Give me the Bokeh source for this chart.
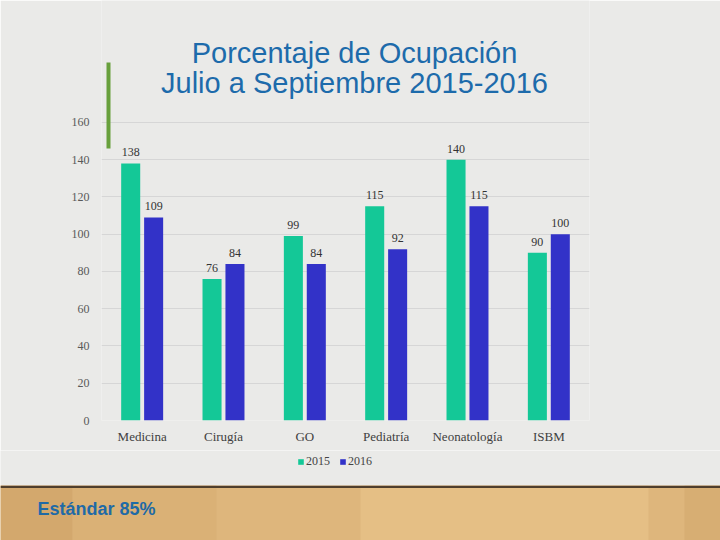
from bokeh.plotting import figure
from bokeh.models import (ColumnDataSource, FactorRange, Range1d, FixedTicker, LabelSet, Label,
                          Legend, LegendItem, BoxAnnotation)
from bokeh.layouts import column
from bokeh.transform import dodge
from bokeh.core.properties import value
from bokeh.embed import file_html
from bokeh.resources import INLINE

categories = ["Medicina", "Cirugía", "GO", "Pediatría", "Neonatología", "ISBM"]
values_2015 = [138, 76, 99, 115, 140, 90]
values_2016 = [109, 84, 84, 92, 115, 100]
series_names = ["2015", "2016"]
y_ticks = [0, 20, 40, 60, 80, 100, 120, 140, 160]
title_lines = ["Porcentaje de Ocupación", "Julio a Septiembre 2015-2016"]
note_text = "Estándar 85%"

SLIDE_BG = "#eaeae8"
WOOD = "#deb67c"
GREEN = "#14c897"
BLUE = "#3232c8"
TITLE_BLUE = "#1d6bab"
SERIF = "Liberation Serif"
SANS = "Liberation Sans"


def no_align(fig):
    if "frame_align" in fig.properties():
        fig.frame_align = False


src = ColumnDataSource(dict(
    cat=categories, v15=values_2015, v16=values_2016,
    t15=[str(v) for v in values_2015], t16=[str(v) for v in values_2016]))

# main chart: frame spans from the canvas top down to the zero line
p = figure(x_range=FactorRange(*categories), y_range=Range1d(0, 225.5),
           width=720, height=450, output_backend="svg", toolbar_location=None,
           min_border_left=101, min_border_right=131, min_border_top=0,
           min_border_bottom=30, background_fill_color=SLIDE_BG,
           border_fill_color=SLIDE_BG, outline_line_color=None)
no_align(p)

off = 0.141
bw = 0.234
r15 = p.vbar(x=dodge('cat', -off, range=p.x_range), top='v15', width=bw, source=src,
             fill_color=GREEN, line_color=None)
r16 = p.vbar(x=dodge('cat', off, range=p.x_range), top='v16', width=bw, source=src,
             fill_color=BLUE, line_color=None)

for col_v, col_t, o in (("v15", "t15", -off), ("v16", "t16", off)):
    p.add_layout(LabelSet(x=dodge('cat', o, range=p.x_range), y=col_v, text=col_t, source=src,
                          text_align="center", text_baseline="bottom", y_offset=7,
                          text_font=value(SERIF), text_font_size=value("12px"),
                          text_color="#333333"))

p.yaxis.ticker = FixedTicker(ticks=y_ticks)
p.ygrid.ticker = FixedTicker(ticks=y_ticks)
p.ygrid.grid_line_color = "#d6d6d6"
p.xgrid.grid_line_color = None
for ax in (p.xaxis, p.yaxis):
    ax.axis_line_color = None
    ax.major_tick_line_color = None
    ax.minor_tick_line_color = None
    ax.major_tick_out = 0
    ax.major_tick_in = 0
    ax.minor_tick_out = 0
p.yaxis.major_label_text_font = SERIF
p.yaxis.major_label_text_font_size = "12px"
p.yaxis.major_label_text_color = "#595959"
p.yaxis.major_label_standoff = 12
p.xaxis.major_label_text_font = SERIF
p.xaxis.major_label_text_font_size = "13px"
p.xaxis.major_label_text_color = "#404040"
p.xaxis.major_label_standoff = 8

# title (inside the extended frame, positioned in frame pixels)
p.add_layout(Label(x=253, y=368, x_units="screen", y_units="screen", text=title_lines[0],
                   text_align="center", text_baseline="alphabetic", text_font=SANS,
                   text_font_size="29px", text_color=TITLE_BLUE))
p.add_layout(Label(x=253, y=338, x_units="screen", y_units="screen", text=title_lines[1],
                   text_align="center", text_baseline="alphabetic", text_font=SANS,
                   text_font_size="29px", text_color=TITLE_BLUE))
# decorative green bar
p.add_layout(BoxAnnotation(left=5, right=9, top=358, bottom=272, left_units="screen",
                           right_units="screen", top_units="screen", bottom_units="screen",
                           fill_color="#68a03c", fill_alpha=1, line_color=None))

# legend strip (legend keys use hidden renderers that share the chart's colours)
lg = figure(width=720, height=35, x_range=Range1d(0, 1), y_range=Range1d(0, 1),
            output_backend="svg", toolbar_location=None, min_border=0,
            x_axis_location=None, y_axis_location=None,
            background_fill_color=SLIDE_BG, border_fill_color=SLIDE_BG,
            outline_line_color=None)
no_align(lg)
lg.grid.visible = False
k15 = lg.vbar(x='v15', top='v15', width=1, source=src, fill_color=GREEN, line_color=None,
              visible=False)
k16 = lg.vbar(x='v16', top='v16', width=1, source=src, fill_color=BLUE, line_color=None,
              visible=False)
legend = Legend(items=[LegendItem(label=series_names[0], renderers=[k15]),
                       LegendItem(label=series_names[1], renderers=[k16])],
                orientation="horizontal", location=(297, 16),
                background_fill_alpha=0, border_line_color=None,
                inactive_fill_alpha=0,
                padding=0, margin=0, spacing=9, glyph_width=7, glyph_height=7,
                label_standoff=2, label_text_font=SERIF, label_text_font_size="12px",
                label_text_color="#444444", label_height=14)
lg.add_layout(legend)

# wooden floor with the dark slide edge on top
f = figure(width=720, height=55, x_range=Range1d(0, 1), y_range=Range1d(0, 1),
           output_backend="svg", toolbar_location=None, min_border=0,
           x_axis_location=None, y_axis_location=None,
           background_fill_color=WOOD, border_fill_color=WOOD,
           outline_line_color=None)
no_align(f)
f.grid.visible = False
f.add_layout(BoxAnnotation(left=0, right=0.1, fill_color="#cc9e64", fill_alpha=0.6, line_color=None))
f.add_layout(BoxAnnotation(left=0.1, right=0.3, fill_color="#d6ab70", fill_alpha=0.5, line_color=None))
f.add_layout(BoxAnnotation(left=0.5, right=0.9, fill_color="#e9c58c", fill_alpha=0.6, line_color=None))
f.add_layout(BoxAnnotation(left=0.95, right=1, fill_color="#d2a86e", fill_alpha=0.6, line_color=None))
f.add_layout(BoxAnnotation(bottom=0.955, top=1, fill_color="#4f3e2c", fill_alpha=1, line_color=None))
f.add_layout(Label(x=37, y=32, x_units="screen", y_units="screen", text=note_text,
                   text_align="left", text_baseline="alphabetic", text_font=SANS,
                   text_font_style="bold", text_font_size="18px", text_color="#1f6aa6"))

layout = column(p, lg, f, spacing=0)
open("out.html", "w").write(file_html(layout, INLINE))
